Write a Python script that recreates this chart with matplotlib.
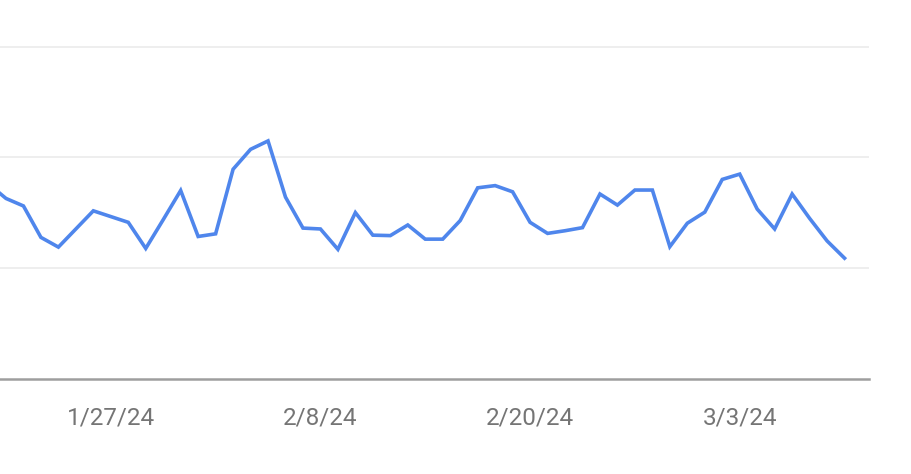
import matplotlib
matplotlib.use("Agg")
import matplotlib.pyplot as plt
import matplotlib.dates as mdates
import numpy as np
from datetime import date, timedelta

start_date = date(2024, 1, 20)
values = [44.0, 40.7, 39.0, 31.9, 29.7, 33.8, 37.9, 36.6, 35.3, 29.4,
          35.9, 42.5, 32.1, 32.7, 47.3, 51.8, 53.7, 41.0, 34.0, 33.8,
          29.2, 37.5, 32.4, 32.3, 34.7, 31.5, 31.5, 35.7, 43.1, 43.6,
          42.2, 35.3, 32.8, 33.4, 34.1, 41.7, 39.2, 42.6, 42.6, 29.8,
          35.1, 37.6, 45.0, 46.2, 38.3, 33.8, 41.7, 36.2, 31.1, 27.2]
dates = [start_date + timedelta(days=i) for i in range(len(values))]
tick_dates = [date(2024, 1, 27), date(2024, 2, 8), date(2024, 2, 20), date(2024, 3, 3)]
tick_labels = ["1/27/24", "2/8/24", "2/20/24", "3/3/24"]
grid_values = [25, 50, 75]

fig = plt.figure(figsize=(9.12, 4.74), dpi=100)
ax = fig.add_axes([0, (474 - 378.5) / 474, 869 / 912, 378.5 / 474])

ax.plot(dates, values, color="#4f86ec", lw=2.6, solid_joinstyle="miter", zorder=3)

for g in grid_values:
    ax.axhline(g, color="#ebebeb", lw=1.2, zorder=1)

x0 = mdates.date2num(date(2024, 1, 27))
ax.set_xlim(x0 - 110.8 / 17.47, x0 + (869 - 110.8) / 17.47)
ax.set_ylim(0, 378.5 / 110.6 * 25)

ax.set_xticks(tick_dates)
ax.set_xticklabels(tick_labels, fontfamily="Roboto", fontsize=17.5, color="#757575")
ax.tick_params(axis="x", length=0, pad=20)
ax.set_yticks([])
for s in ["top", "right", "left"]:
    ax.spines[s].set_visible(False)
ax.spines["bottom"].set_color("#9e9e9e")
ax.spines["bottom"].set_linewidth(1.8)

fig.savefig("out.png", dpi=100)
